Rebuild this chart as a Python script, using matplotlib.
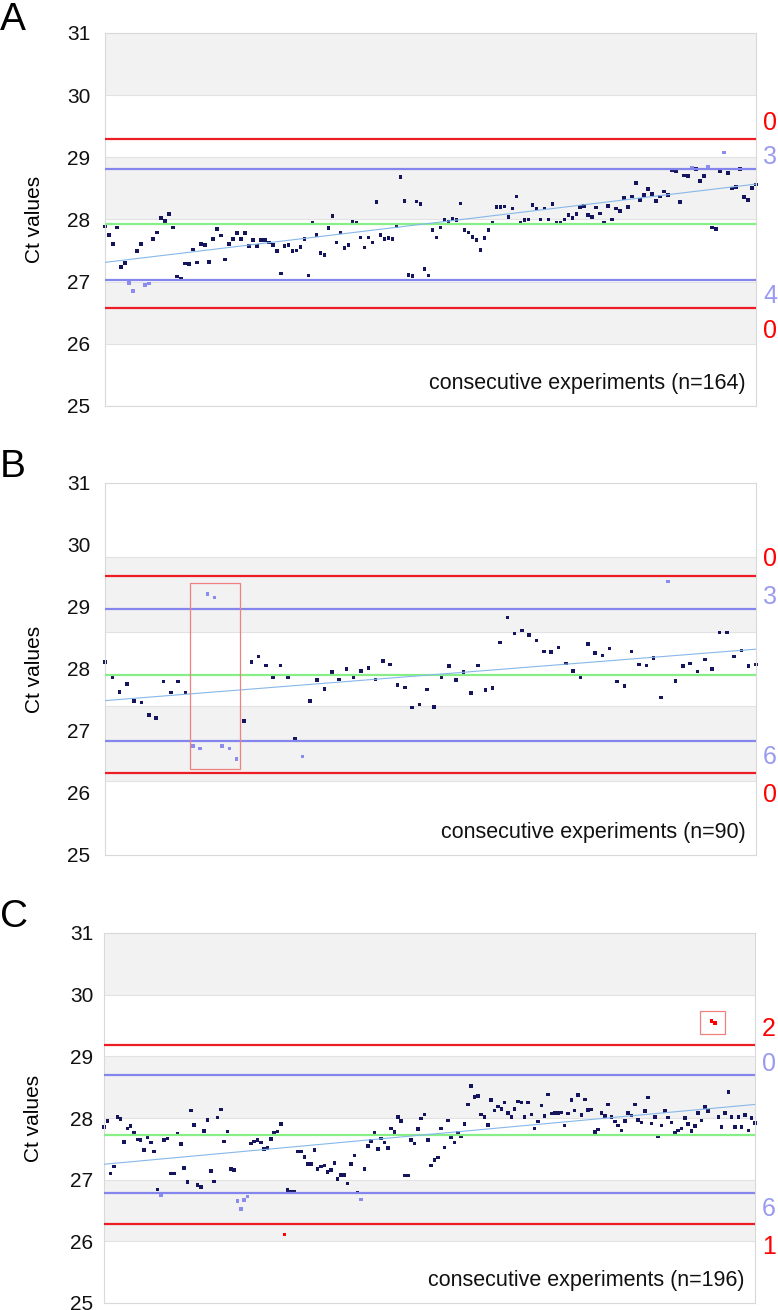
import matplotlib
matplotlib.use('Agg')
import matplotlib.pyplot as plt
from matplotlib.patches import Rectangle
import numpy as np

plt.rcParams['font.family'] = ['Liberation Sans', 'DejaVu Sans']

# ---------------- data ----------------
panel_letters = ['A', 'B', 'C']
y_ticks = [25, 26, 27, 28, 29, 30, 31]

A_ct = [27.89, 27.75, 27.61, 27.87, 27.24, 27.30, 26.98, 26.85, 27.49, 27.61,
        26.95, 26.97, 27.69, 27.79, 28.02, 27.98, 28.09, 27.87, 27.08, 27.05,
        27.29, 27.28, 27.52, 27.31, 27.61, 27.59, 27.32, 27.69, 27.85, 27.74,
        27.36, 27.61, 27.69, 27.78, 27.69, 27.78, 27.57, 27.67, 27.57, 27.67,
        27.67, 27.63, 27.59, 27.49, 27.13, 27.57, 27.59, 27.49, 27.50, 27.56,
        27.69, 27.10, 27.95, 27.75, 27.46, 27.43, 27.86, 28.06, 27.63, 27.79,
        27.54, 27.59, 27.96, 27.95, 27.71, 27.55, 27.71, 27.63, 28.28, 27.75,
        27.69, 27.70, 27.69, 27.89, 28.68, 28.30, 27.11, 27.09, 28.29, 28.25,
        27.20, 27.10, 27.83, 27.71, 27.87, 27.99, 27.97, 28.01, 27.99, 28.26,
        27.83, 27.79, 27.72, 27.67, 27.51, 27.70, 27.83, 27.95, 28.20, 28.20,
        28.21, 28.04, 28.18, 28.37, 27.95, 27.99, 28.00, 28.23, 28.18, 28.00,
        28.18, 28.00, 28.25, 27.95, 27.95, 28.00, 28.07, 28.02, 28.09, 28.20,
        28.22, 28.07, 28.04, 28.19, 28.10, 27.95, 28.22, 28.00, 28.18, 28.14,
        28.35, 28.20, 28.37, 28.59, 28.31, 28.39, 28.49, 28.41, 28.30, 28.37,
        28.45, 28.39, 28.80, 28.78, 28.28, 28.71, 28.70, 28.84, 28.81, 28.62,
        28.70, 28.85, 27.87, 27.85, 28.77, 29.08, 28.75, 28.50, 28.52, 28.81,
        28.36, 28.31, 28.51, 28.56]

B_ct = [28.11, 27.87, 27.63, 27.76, 27.48, 27.46, 27.26, 27.21, 27.80, 27.62,
        27.80, 27.62, 26.76, 26.72, 29.21, 29.15, 26.76, 26.72, 26.55, 27.16,
        28.11, 28.20, 28.06, 27.86, 28.06, 27.86, 26.87, 26.59, 27.48, 27.82,
        27.68, 27.95, 27.83, 28.00, 27.86, 27.97, 28.02, 27.83, 28.13, 28.07,
        27.74, 27.70, 27.38, 27.43, 27.67, 27.39, 27.86, 28.05, 27.82, 27.95,
        27.61, 28.06, 27.66, 27.69, 28.43, 28.83, 28.57, 28.62, 28.55, 28.46,
        28.28, 28.27, 28.35, 28.09, 27.97, 27.87, 28.40, 28.26, 28.22, 28.33,
        27.80, 27.73, 28.28, 28.07, 28.06, 28.18, 27.54, 29.41, 27.81, 28.05,
        28.09, 27.96, 28.15, 28.00, 28.59, 28.59, 28.20, 28.30, 28.05, 28.07]

C_ct = [27.85, 27.95, 27.10, 27.21, 28.02, 27.98, 27.61, 27.83, 27.87, 27.76,
        27.65, 27.64, 27.48, 27.69, 27.60, 27.46, 26.84, 26.75, 27.64, 27.67,
        27.10, 27.10, 27.75, 27.58, 27.19, 26.96, 28.12, 27.89, 26.91, 26.88,
        27.79, 27.97, 27.14, 26.97, 28.01, 28.14, 27.62, 27.78, 27.17, 27.16,
        26.65, 26.52, 26.67, 26.73, 27.59, 27.62, 27.64, 27.60, 27.50, 27.51,
        27.66, 27.76, 27.78, 27.90, 26.11, 26.83, 26.80, 26.81, 27.46, 27.46,
        27.37, 27.25, 27.25, 27.48, 27.17, 27.21, 27.23, 27.12, 27.16, 27.27,
        27.01, 27.08, 27.08, 26.94, 27.25, 27.39, 26.79, 26.68, 27.17, 27.55,
        27.63, 27.76, 27.50, 27.67, 27.60, 27.51, 27.83, 27.77, 28.02, 27.95,
        27.07, 27.07, 27.64, 27.59, 27.82, 27.99, 28.06, 27.64, 27.23, 27.32,
        27.36, 27.83, 27.52, 27.96, 27.69, 27.60, 27.76, 27.71, 27.90, 28.22,
        28.52, 28.34, 28.36, 28.06, 28.02, 27.89, 28.29, 28.12, 28.19, 28.15,
        28.25, 28.08, 28.02, 28.15, 28.27, 28.25, 28.02, 28.25, 28.06, 27.83,
        27.94, 28.20, 28.03, 28.38, 28.07, 28.08, 28.08, 28.09, 27.88, 28.07,
        28.29, 28.12, 28.37, 28.05, 28.30, 28.13, 28.14, 27.77, 27.81, 28.08,
        28.03, 28.22, 28.02, 27.94, 27.88, 27.80, 27.95, 28.08, 28.04, 28.22,
        27.97, 27.93, 28.11, 28.33, 27.91, 28.02, 27.70, 27.88, 28.11, 28.01,
        27.93, 27.76, 27.80, 27.83, 28.00, 27.90, 27.79, 27.87, 28.08, 27.96,
        28.18, 28.11, 29.57, 29.54, 28.02, 27.85, 28.08, 28.42, 28.02, 27.85,
        28.02, 27.85, 28.05, 27.80, 28.00, 27.92]

# control limits: [red_hi, blue_hi, mean, blue_lo, red_lo]
A_limits = [29.29, 28.82, 27.93, 27.03, 26.57]
B_limits = [29.50, 28.97, 27.90, 26.84, 26.33]
C_limits = [29.18, 28.69, 27.72, 26.78, 26.28]

# linear trend line (start value, end value)
A_trend = [27.31, 28.57]
B_trend = [27.49, 28.32]
C_trend = [27.25, 28.22]

# highlight boxes (x0, x1, y0, y1) in data units
B_box = [11.58, 18.46, 26.39, 29.38]
C_box = [178.4, 186.0, 29.36, 29.74]

# ---------------- style ----------------
DARK = '#15155e'
LIGHT = '#8c8cf0'
RED = '#ff0000'
RED_LINE = '#ee1c24'
BLUE_LINE = '#8585ee'
GREEN_LINE = '#88ee88'
TREND = '#86b8ea'
BAND = '#f2f2f2'
GRID = '#e2e2e2'
FRAME = '#d9d9d9'

W, H = 778, 1310
fig = plt.figure(figsize=(W / 100, H / 100), dpi=100)

# pixel boxes of plot areas: (left, top, right, bottom)
boxes_px = [(105, 33, 756, 406), (105, 483, 756, 855), (104, 933, 755, 1303)]
letter_y_px = [20, 467, 917]
grid_steps = [1.0, 1.2, 1.0]
tick_pads = [10.5, 10.5, 7.5]

datasets = [A_ct, B_ct, C_ct]
limits = [A_limits, B_limits, C_limits]
trends = [A_trend, B_trend, C_trend]
hboxes = [None, B_box, C_box]

for k in range(3):
    l, t, r, b = boxes_px[k]
    ax = fig.add_axes([l / W, 1 - b / H, (r - l) / W, (b - t) / H])
    ct = np.array(datasets[k])
    n = len(ct)
    x = np.arange(n)
    red_hi, blue_hi, mean, blue_lo, red_lo = limits[k]

    ax.set_xlim(0, n - 1)
    ax.set_ylim(25, 31)

    # alternating bands + gridlines
    edges = np.arange(25, 31 + 1e-6, grid_steps[k])
    for j in range(len(edges) - 1):
        if j % 2 == 1:
            ax.axhspan(edges[j], edges[j + 1], color=BAND, lw=0, zorder=0)
    for e in edges:
        ax.axhline(e, color=GRID, lw=0.8, zorder=0.5)

    for sp in ax.spines.values():
        sp.set_color(FRAME)
        sp.set_linewidth(0.8)

    ax.set_xticks([])
    ax.set_yticks(y_ticks)
    ax.set_yticklabels([str(v) for v in y_ticks])
    ax.tick_params(axis='y', length=0, pad=tick_pads[k], labelsize=15,
                   colors='#111111')

    ax.set_ylabel('Ct values', fontsize=15)
    ax.yaxis.set_label_coords(-0.094, 0.5)

    # points
    colors = []
    for v in ct:
        if v > red_hi or v < red_lo:
            colors.append(RED)
        elif v > blue_hi or v < blue_lo:
            colors.append(LIGHT)
        else:
            colors.append(DARK)
    ax.scatter(x, ct, s=6.5, marker='s', c=colors, linewidths=0, zorder=2,
               clip_on=False)

    # control lines
    ax.axhline(red_hi, color=RED_LINE, lw=1.6, zorder=3)
    ax.axhline(red_lo, color=RED_LINE, lw=1.6, zorder=3)
    ax.axhline(blue_hi, color=BLUE_LINE, lw=1.6, zorder=3)
    ax.axhline(blue_lo, color=BLUE_LINE, lw=1.6, zorder=3)
    ax.axhline(mean, color=GREEN_LINE, lw=1.6, zorder=3)

    # trend
    ax.plot([0, n - 1], trends[k], color=TREND, lw=0.8, zorder=4)

    # highlight box
    if hboxes[k] is not None:
        x0, x1, y0, y1 = hboxes[k]
        ax.add_patch(Rectangle((x0, y0), x1 - x0, y1 - y0, fill=False,
                               edgecolor='#ee8080', lw=0.9, zorder=5))

    # counts outside limits
    n_red_hi = int(np.sum(ct > red_hi))
    n_blue_hi = int(np.sum((ct > blue_hi) & (ct <= red_hi)))
    n_blue_lo = int(np.sum((ct < blue_lo) & (ct >= red_lo)))
    n_red_lo = int(np.sum(ct < red_lo))
    for cnt, lev, dy, col in [(n_red_hi, red_hi, 12, RED),
                              (n_blue_hi, blue_hi, 8.5, '#9a9af2'),
                              (n_blue_lo, blue_lo, -11.5, '#9a9af2'),
                              (n_red_lo, red_lo, -16.5, RED)]:
        ax.annotate(str(cnt), xy=(1, lev), xycoords=('axes fraction', 'data'),
                    xytext=(5, dy), textcoords='offset points', ha='left',
                    va='center', fontsize=18, color=col, annotation_clip=False)

    ax.text(0.984, 0.06, 'consecutive experiments (n=%d)' % n,
            transform=ax.transAxes, ha='right', va='center', fontsize=15.5,
            color='#111111')

    fig.text(0.0, 1 - letter_y_px[k] / H, panel_letters[k], fontsize=28,
             ha='left', va='center')

fig.savefig('out.png', dpi=100)
